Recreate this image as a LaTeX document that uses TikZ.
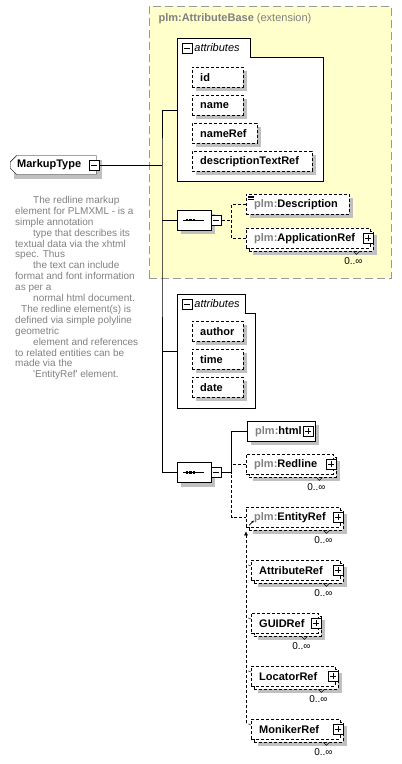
\documentclass[tikz,border=0pt]{standalone}
\usepackage{fontspec}
\setmainfont{Liberation Sans}
\usetikzlibrary{shapes.misc,arrows.meta,positioning}

\definecolor{prefixgray}{HTML}{808080}
\definecolor{docgray}{HTML}{808080}
\definecolor{extfill}{HTML}{FFFFCC}
\definecolor{extline}{HTML}{999999}
\definecolor{shadowgray}{HTML}{C0C0C0}

\pgfdeclarelayer{back}
\pgfdeclarelayer{lower}
\pgfsetlayers{back,lower,main}

\newcommand{\plmns}{\textcolor{prefixgray}{plm:}}

\tikzset{
  box/.style={draw, fill=white, anchor=north west, inner xsep=8pt, inner ysep=0pt,
    minimum height=20pt, align=left, font=\fontsize{11}{13}\selectfont\bfseries},
  elem/.style={box},
  optelem/.style={box, dash pattern=on 3pt off 2pt},
  multielem/.style={box, dash pattern=on 3pt off 2pt,
    preaction={draw, fill=white, dash pattern=on 3pt off 2pt, transform canvas={shift={(3pt,-3pt)}}}},
  optconn/.style={dash pattern=on 3pt off 2pt},
  pmbox/.style={draw, fill=white, minimum size=10pt, inner sep=0pt},
  minusbox/.style={pmbox, path picture={
    \draw ([xshift=2pt]path picture bounding box.west) -- ([xshift=-2pt]path picture bounding box.east);}},
  plusbox/.style={pmbox, path picture={
    \draw ([xshift=2pt]path picture bounding box.west) -- ([xshift=-2pt]path picture bounding box.east);
    \draw ([yshift=-2pt]path picture bounding box.north) -- ([yshift=2pt]path picture bounding box.south);}},
  seqshape/.style={chamfered rectangle, chamfered rectangle xsep=5pt,
    minimum width=34pt, minimum height=20pt, inner sep=0pt},
  seqbox/.style={seqshape, draw, fill=white},
  panel/.style={anchor=north west, inner sep=0pt},
  mult/.style={font=\fontsize{10}{12}\selectfont, inner sep=0pt},
  doctext/.style={anchor=north west, inner sep=0pt, align=left, text=docgray,
    font=\fontsize{10}{10.9}\selectfont},
}

\begin{document}
\begin{tikzpicture}[x=1pt, y=-1pt, line width=0.8pt]
\useasboundingbox (0,0) rectangle (402,764);

% extension base
\begin{pgfonlayer}{back}
\node (extbase) at (149,6) [anchor=north west, draw=extline, fill=extfill, dash pattern=on 8pt off 4pt,
  minimum width=242pt, minimum height=272pt] {};
\end{pgfonlayer}
\node (extlabel) at (155,19) [anchor=west, text=prefixgray, font=\fontsize{11}{13}\selectfont]
  {\textbf{plm:AttributeBase} (extension)};

% shadows (drawn first, under the boxes)
\fill[shadowgray] (14,159.5) rectangle (102,178.5);
\fill[shadowgray] (181,214) rectangle (215,234);
\fill[shadowgray] (181,466.5) rectangle (215,486.5);
\fill[shadowgray] (196,71) rectangle (247,91);
\fill[shadowgray] (196,99) rectangle (247,119);
\fill[shadowgray] (196,127) rectangle (261,147);
\fill[shadowgray] (196,155) rectangle (316,175);
\fill[shadowgray] (196,325) rectangle (247,345);
\fill[shadowgray] (196,353) rectangle (247,373);
\fill[shadowgray] (196,381) rectangle (247,401);
\fill[shadowgray] (250,198) rectangle (353,218);
\fill[shadowgray] (251,425) rectangle (319,445);
\fill[shadowgray] (253,235) rectangle (377,255);
\fill[shadowgray] (253,461) rectangle (340,481);
\fill[shadowgray] (253,514) rectangle (347,534);
\fill[shadowgray] (258,567) rectangle (347,587);
\fill[shadowgray] (258,620) rectangle (325,640);
\fill[shadowgray] (258,673) rectangle (342,693);
\fill[shadowgray] (258,726) rectangle (347,746);

% root element and its documentation
\node (markup) at (10,165) [anchor=west, chamfered rectangle, chamfered rectangle corners={north west,south west},
  chamfered rectangle xsep=3pt, draw, fill=white, minimum height=19pt, inner xsep=4pt, inner ysep=0pt,
  text width=72pt, font=\fontsize{11}{13}\selectfont\bfseries] {MarkupType};
\node (mtminus) at ([xshift=-2pt]markup.east) [minusbox] {};
\node (doc) at (15,196) [doctext] {%
\hspace*{18pt}The redline markup\\
element for PLMXML - is a\\
simple annotation\\
\hspace*{18pt}type that describes its\\
textual data via the xhtml\\
spec. Thus\\
\hspace*{18pt}the text can include\\
format and font information\\
as per a\\
\hspace*{18pt}normal html document.\\
\hspace*{6pt}The redline element(s) is\\
defined via simple polyline\\
geometric\\
\hspace*{18pt}element and references\\
to related entities can be\\
made via the\\
\hspace*{18pt}\textquotesingle EntityRef\textquotesingle\ element.};

% first attribute group
\node (attrsA) at (177,38) [panel, minimum width=146pt, minimum height=143pt] {};
\begin{pgfonlayer}{lower}
\draw[fill=white] (attrsA.north west) -- ++(73,0) |- ([yshift=-19pt]attrsA.north east)
  -- (attrsA.south east) -- (attrsA.south west) -- cycle;
\end{pgfonlayer}
\node (attrsAminus) at ([shift={(10pt,-10pt)}]attrsA.north west) [minusbox] {};
\node (attrsAlabel) [right=1pt of attrsAminus, inner sep=1pt, font=\fontsize{11}{13}\selectfont\itshape] {attributes};
\node (id) at (192,67) [optelem, text width=35pt] {id};
\node (attrname) at (192,95) [optelem, text width=35pt] {name};
\node (nameref) at (192,123) [optelem, text width=49pt] {nameRef};
\node (desctextref) at (192,151) [optelem, text width=104pt] {descriptionTextRef};

% first sequence
\node (seqA) at (194,220) [seqbox] {};
\node (seqAminus) [minusbox, right=0pt of seqA] {};
\draw ([xshift=6pt]seqA.west) -- ([xshift=-7pt]seqA.east);
\foreach \dx in {-7,-3.5,0} \fill ([xshift=\dx pt]seqA.center) ++(-1.3,-1.3) rectangle ++(2.6,2.6);

\node (description) at (246,194) [optelem, text width=87pt] {\plmns Description};
\foreach \dy in {2,3.5,5}
  \draw[line width=0.5pt] ([xshift=2pt,yshift=-\dy pt]description.north west) -- ++(6,0);
\node (appref) at (246,228) [multielem, text width=108pt] {\plmns ApplicationRef};

% second attribute group
\node (attrsB) at (177,294) [panel, minimum width=78pt, minimum height=114pt] {};
\begin{pgfonlayer}{lower}
\draw[fill=white] (attrsB.north west) -- ++(68,0) |- ([yshift=-19pt]attrsB.north east)
  -- (attrsB.south east) -- (attrsB.south west) -- cycle;
\end{pgfonlayer}
\node (attrsBminus) at ([shift={(10pt,-10pt)}]attrsB.north west) [minusbox] {};
\node (attrsBlabel) [right=1pt of attrsBminus, inner sep=1pt, font=\fontsize{11}{13}\selectfont\itshape] {attributes};
\node (author) at (192,321) [optelem, text width=35pt] {author};
\node (attrtime) at (192,349) [optelem, text width=35pt] {time};
\node (attrdate) at (192,377) [optelem, text width=35pt] {date};

% second sequence
\node (seqB) at (194,472.5) [seqbox] {};
\node (seqBminus) [minusbox, right=0pt of seqB] {};
\draw ([xshift=6pt]seqB.west) -- ([xshift=-7pt]seqB.east);
\foreach \dx in {-7,-3.5,0} \fill ([xshift=\dx pt]seqB.center) ++(-1.3,-1.3) rectangle ++(2.6,2.6);
\node (html) at (247,421) [elem, text width=52pt] {\plmns html};
\node (redline) at (246,454) [multielem, text width=71pt] {\plmns Redline};
\node (entityref) at (246,507) [multielem, text width=78pt] {\plmns EntityRef};
\draw[line width=0.6pt, -{Latex[length=2.5pt,width=2.5pt]}] ([shift={(3pt,2pt)}]entityref.south west) -- ++(5,-5);
\node (attributeref) at (251,560) [multielem, text width=73pt] {AttributeRef};
\node (guidref) at (251,613) [multielem, text width=51pt] {GUIDRef};
\node (locatorref) at (251,666) [multielem, text width=68pt] {LocatorRef};
\node (monikerref) at (251,719) [multielem, text width=73pt] {MonikerRef};

% plus boxes and occurrences
\node (htmlplus) at ([xshift=-7pt]html.east) [plusbox] {};
\foreach \m in {appref,redline,entityref,attributeref,guidref,locatorref,monikerref} {
  \node (\m plus) at ([xshift=-2pt]\m.east) [plusbox] {};
  \draw[line width=0.5pt] ([xshift=-17pt,yshift=-3pt]\m.south east) -- ++(3,3) -- ++(3,-3);
  \node (\m mult) at ([xshift=-17pt,yshift=-13pt]\m.south east) [mult] {0..∞};
}

% connectors
\coordinate (trunk) at (162,165);
\draw (mtminus.east) -- (trunk);
\draw (attrsA.west) -| (trunk) |- (seqB.west);
\draw (seqA.west) -- (seqA.west -| trunk);
\draw (attrsB.west) -- (attrsB.west -| trunk);
\coordinate (chA) at ([xshift=10pt]seqAminus.east);
\draw[optconn] (seqAminus.east) -- (chA);
\draw[optconn] (description.west) -| (chA) |- (appref.west);
\coordinate (chB) at ([xshift=10pt]seqBminus.east);
\draw (seqBminus.east) -- (chB) |- (html.west);
\draw[optconn] (redline.west) -| (chB) |- (entityref.west);

% substitution group
\coordinate (substend) at (246,723);
\draw[optconn, -{Latex[length=4pt,width=4pt]}] (substend) -- ([yshift=-4pt]entityref.south west);
\foreach \m in {attributeref,guidref,locatorref,monikerref}
  \draw[optconn] ([yshift=-6pt]\m.north west) -- ++(-5,-2);
\end{tikzpicture}
\end{document}
